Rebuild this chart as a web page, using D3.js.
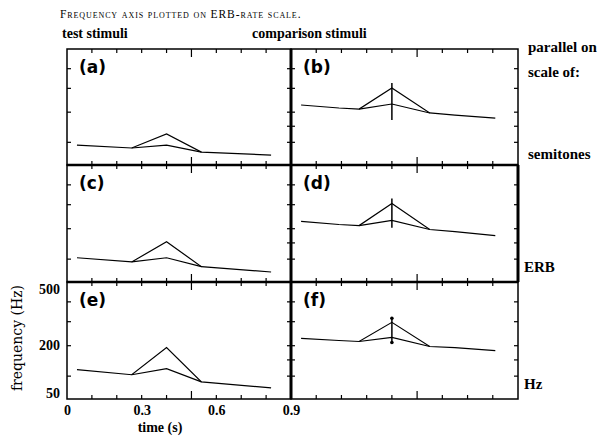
<!DOCTYPE html>
<html>
<head>
<meta charset="utf-8">
<script src="https://cdn.jsdelivr.net/npm/d3@7"></script>
<style>
  body { margin: 0; background: #fff; }
</style>
</head>
<body>
<div id="chart"></div>
<script>
//데이터 (Hz, 시간 s)
var timeTicks = [0.1, 0.2, 0.3, 0.4, 0.5, 0.6, 0.7, 0.8];
var timeLabels = [0, 0.3, 0.6, 0.9];
var freqLabels = [500, 200, 50];
var freqTicksOuter = [100, 200, 300, 400];
var freqTicksInner = [100, 150, 200, 300, 400];

var tLeft = [0.04, 0.26, 0.40, 0.54, 0.82];
var tLeftLow = [0.26, 0.40, 0.54];
var tRight = [0.04, 0.19, 0.27, 0.40, 0.55, 0.65, 0.81];
var tRightLow = [0.27, 0.40, 0.55];

var aUpper = [92, 84, 125, 73, 65];
var aLower = [84, 92, 73];
var cUpper = [104, 92, 154, 79, 65];
var cLower = [92, 104, 79];
var eUpper = [119, 104, 193, 84, 68];
var eLower = [104, 122, 84];

var bUpper = [228, 216, 212, 302, 197, 189, 178];
var bLower = [212, 232, 197];
var bBar = [325, 171];
var dUpper = [228, 216, 212, 306, 197, 189, 175];
var dLower = [212, 232, 197];
var dBar = [330, 204];
var fUpper = [228, 220, 216, 297, 197, 193, 182];
var fLower = [216, 232, 197];
var fBar = [316, 212];

var rowNames = ["semitones", "ERB", "Hz"];

var SERIF = "'Liberation Serif', 'DejaVu Serif', serif";

//ERB-rate 변환
function erb(f) {
  return 21.4 * Math.log10((4.37 * f) / 1000 + 1);
}

var w = 610;
var h = 440;
var cols = [[67, 291], [291, 518]];
var rows = [[49, 165], [165, 282], [282, 399]];

var svg = d3
  .select("#chart")
  .append("svg")
  .attr("width", w)
  .attr("height", h);

var panels = [
  { label: "(a)", c: 0, r: 0, t: tLeft, up: aUpper, tl: tLeftLow, low: aLower },
  { label: "(b)", c: 1, r: 0, t: tRight, up: bUpper, tl: tRightLow, low: bLower, bar: bBar },
  { label: "(c)", c: 0, r: 1, t: tLeft, up: cUpper, tl: tLeftLow, low: cLower },
  { label: "(d)", c: 1, r: 1, t: tRight, up: dUpper, tl: tRightLow, low: dLower, bar: dBar },
  { label: "(e)", c: 0, r: 2, t: tLeft, up: eUpper, tl: tLeftLow, low: eLower },
  { label: "(f)", c: 1, r: 2, t: tRight, up: fUpper, tl: tRightLow, low: fLower, bar: fBar, dots: true }
];

function xScaleFor(c) {
  return d3.scaleLinear().domain([0, 0.9]).range(cols[c]);
}
function yScaleFor(r) {
  return d3
    .scaleLinear()
    .domain([erb(40.5), erb(519)])
    .range([rows[r][1], rows[r][0]]);
}

panels.forEach(function(p) {
  var x = xScaleFor(p.c);
  var y = yScaleFor(p.r);
  var g = svg.append("g");
  var x0 = cols[p.c][0], x1 = cols[p.c][1];
  var y0 = rows[p.r][0], y1 = rows[p.r][1];

  //테두리
  g.append("rect")
    .attr("x", x0)
    .attr("y", y0)
    .attr("width", x1 - x0)
    .attr("height", y1 - y0)
    .attr("fill", "none")
    .attr("stroke", "#000")
    .attr("stroke-width", 1.5);

  //시간 눈금 (위, 아래, 안쪽)
  timeTicks.forEach(function(t) {
    var len = t == 0.5 ? 8 : 4;
    g.append("line")
      .attr("x1", x(t)).attr("x2", x(t))
      .attr("y1", y1).attr("y2", y1 - len)
      .attr("stroke", "#000").attr("stroke-width", 1.2);
    g.append("line")
      .attr("x1", x(t)).attr("x2", x(t))
      .attr("y1", y0).attr("y2", y0 + len)
      .attr("stroke", "#000").attr("stroke-width", 1.2);
  });

  //주파수 눈금
  var leftTicks = p.c == 0 ? freqTicksOuter : freqTicksInner;
  leftTicks.forEach(function(f) {
    g.append("line")
      .attr("x1", x0).attr("x2", x0 + 4)
      .attr("y1", y(erb(f))).attr("y2", y(erb(f)))
      .attr("stroke", "#000").attr("stroke-width", 1.2);
  });
  freqTicksInner.forEach(function(f) {
    g.append("line")
      .attr("x1", x1).attr("x2", x1 - 4)
      .attr("y1", y(erb(f))).attr("y2", y(erb(f)))
      .attr("stroke", "#000").attr("stroke-width", 1.2);
  });

  var line = d3
    .line()
    .x(function(d) { return x(d[0]); })
    .y(function(d) { return y(erb(d[1])); });

  g.append("path")
    .attr("d", line(d3.zip(p.t, p.up)))
    .attr("fill", "none")
    .attr("stroke", "#000")
    .attr("stroke-width", 1.2);
  g.append("path")
    .attr("d", line(d3.zip(p.tl, p.low)))
    .attr("fill", "none")
    .attr("stroke", "#000")
    .attr("stroke-width", 1.2);

  if (p.bar) {
    g.append("line")
      .attr("x1", x(0.4)).attr("x2", x(0.4))
      .attr("y1", y(erb(p.bar[0]))).attr("y2", y(erb(p.bar[1])))
      .attr("stroke", "#000").attr("stroke-width", 1.5);
    if (p.dots) {
      p.bar.forEach(function(f) {
        g.append("circle")
          .attr("cx", x(0.4)).attr("cy", y(erb(f)))
          .attr("r", 1.8).attr("fill", "#000");
      });
    }
  }

  g.append("text")
    .text(p.label)
    .attr("x", x0 + 12)
    .attr("y", y0 + 24)
    .style("font-family", "'DejaVu Sans', sans-serif")
    .style("font-weight", "bold")
    .style("font-size", "17px");
});

//굵은 구분선
svg.append("line")
  .attr("x1", 291).attr("x2", 291).attr("y1", 49).attr("y2", 399)
  .attr("stroke", "#000").attr("stroke-width", 3);
[165, 282].forEach(function(yy) {
  svg.append("line")
    .attr("x1", 67).attr("x2", 518).attr("y1", yy).attr("y2", yy)
    .attr("stroke", "#000").attr("stroke-width", 2.5);
});
svg.append("line")
  .attr("x1", 518).attr("x2", 518).attr("y1", 165).attr("y2", 282)
  .attr("stroke", "#000").attr("stroke-width", 3);

//축 레이블 (e)
var xE = xScaleFor(0);
var yE = yScaleFor(2);
svg.append("g")
  .attr("transform", "translate(0,399)")
  .call(d3.axisBottom(xE).tickValues(timeLabels).tickSize(0).tickPadding(6)
    .tickFormat(function(d) { return d == 0 ? "0" : d3.format(".1f")(d); }))
  .call(function(s) {
    s.select(".domain").remove();
    s.selectAll("text")
      .attr("fill", "#000")
      .style("font-family", SERIF)
      .style("font-size", "14px")
      .style("font-weight", "bold");
  });

svg.selectAll(".flabel")
  .data(freqLabels)
  .enter()
  .append("text")
  .attr("class", "flabel")
  .text(function(d) { return d; })
  .attr("x", 60)
  .attr("y", function(d) {
    var yy = yE(erb(d));
    return Math.min(Math.max(yy, 290), 394) + 4;
  })
  .attr("text-anchor", "end")
  .style("font-family", SERIF)
  .style("font-size", "14px")
  .style("font-weight", "bold");

svg.append("text")
  .text("frequency (Hz)")
  .attr("transform", "translate(22,338) rotate(-90)")
  .attr("text-anchor", "middle")
  .style("font-family", "'DejaVu Serif', serif")
  .style("font-size", "14px");

svg.append("text")
  .text("time (s)")
  .attr("x", 160)
  .attr("y", 432)
  .attr("text-anchor", "middle")
  .style("font-family", SERIF)
  .style("font-weight", "bold")
  .style("font-size", "14px");

//제목
svg.append("text")
  .text("Frequency axis plotted on ERB-rate scale.")
  .attr("x", 60)
  .attr("y", 18)
  .style("font-family", SERIF)
  .style("font-variant", "small-caps")
  .style("font-size", "11.5px")
  .style("letter-spacing", "0.9px");

svg.append("text")
  .text("test stimuli")
  .attr("x", 62)
  .attr("y", 38)
  .style("font-family", SERIF)
  .style("font-weight", "bold")
  .style("font-size", "14px");

svg.append("text")
  .text("comparison stimuli")
  .attr("x", 252)
  .attr("y", 38)
  .style("font-family", SERIF)
  .style("font-weight", "bold")
  .style("font-size", "14px");

svg.append("text")
  .text("parallel on")
  .attr("x", 528).attr("y", 52)
  .style("font-family", SERIF)
  .style("font-weight", "bold").style("font-size", "15px");
svg.append("text")
  .text("scale of:")
  .attr("x", 528).attr("y", 77)
  .style("font-family", SERIF)
  .style("font-weight", "bold").style("font-size", "15px");

var nameY = [159, 272, 389];
rowNames.forEach(function(n, i) {
  svg.append("text")
    .text(n)
    .attr("x", i == 0 ? 528 : 524)
    .attr("y", nameY[i])
    .style("font-family", SERIF)
    .style("font-weight", "bold")
    .style("font-size", "15px");
});
</script>
</body>
</html>
